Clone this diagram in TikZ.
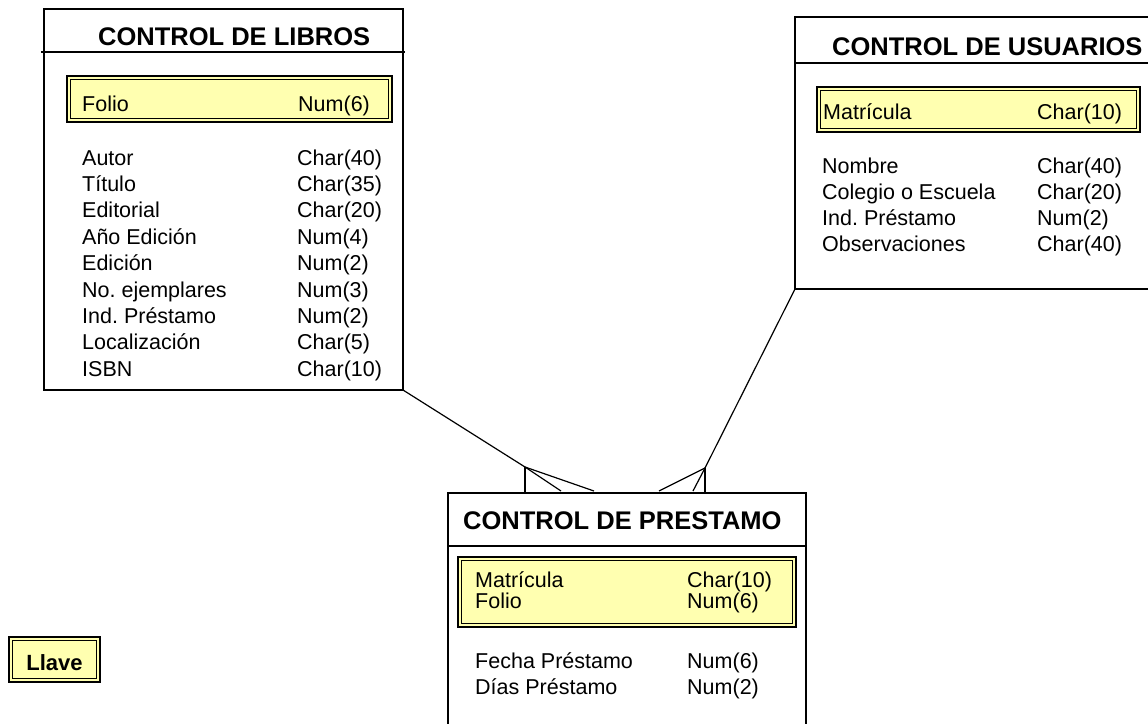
\documentclass[tikz,border=0pt]{standalone}
\usepackage{fontspec}
\setmainfont{Liberation Sans}
\definecolor{keyyellow}{RGB}{255,255,176}
\frenchspacing
\begin{document}
\frenchspacing
\begin{tikzpicture}[x=1pt,y=-1pt,
  entity/.style={draw, line width=1.5pt, inner sep=0pt, outer sep=0pt, anchor=north west},
  keybox/.style={draw=black, line width=2pt, fill=keyyellow, inner sep=0pt, outer sep=0pt, anchor=north west},
  keyinner/.style={draw=black, line width=1pt},
  etitle/.style={font=\fontsize{25.5}{30}\selectfont\bfseries, anchor=base west, inner sep=0pt},
  field/.style={font=\fontsize{21.5}{26}\selectfont, anchor=base west, inner sep=0pt},
  sep/.style={line width=1.5pt},
  conn/.style={line width=1.2pt}]
\useasboundingbox (0,0) rectangle (1148,723);
\clip (0,0) rectangle (1148,723);

% ---------- CONTROL DE LIBROS ----------
\node[entity, minimum width=359pt, minimum height=381pt] (libros) at (44,9) {};
\draw[sep] (libros.north west) ++(-3,43) -- ++(364,0);
\node[etitle] (tlibros) at (98,45) {CONTROL DE LIBROS};
\node[keybox, minimum width=325pt, minimum height=46pt] (klibros) at (67,76) {};
\draw[keyinner] ([shift={(3.5,3.5)}]klibros.north west) rectangle ([shift={(-3.5,-3.5)}]klibros.south east);
\node[field] (l0a) at (82,111) {Folio};
\node[field] (l0b) at (298,111) {Num(6)};
\foreach \n/\a/\b [count=\i from 0] in {l1/Autor/Char(40), l2/Título/Char(35), l3/Editorial/Char(20), l4/Año Edición/Num(4), l5/Edición/Num(2), l6/No. ejemplares/Num(3), l7/Ind. Préstamo/Num(2), l8/Localización/Char(5), l9/ISBN/Char(10)}{
  \node[field] (\n a) at (82,165+26.4*\i) {\a};
  \node[field] (\n b) at (297,165+26.4*\i) {\b};
}

% ---------- CONTROL DE USUARIOS ----------
\node[entity, minimum width=370pt, minimum height=272pt] (usuarios) at (795,17) {};
\draw[sep] (usuarios.north west) ++(0,46) -- ++(370,0);
\node[etitle] (tusuarios) at (832,55) {CONTROL DE USUARIOS};
\node[keybox, minimum width=323pt, minimum height=45pt] (kusuarios) at (817,87) {};
\draw[keyinner] ([shift={(3.5,3.5)}]kusuarios.north west) rectangle ([shift={(-3.5,-3.5)}]kusuarios.south east);
\node[field] (u0a) at (823,119) {Matrícula};
\node[field] (u0b) at (1037,119) {Char(10)};
\foreach \n/\a/\b [count=\i from 0] in {u1/Nombre/Char(40), u2/Colegio o Escuela/Char(20), u3/Ind. Préstamo/Num(2), u4/Observaciones/Char(40)}{
  \node[field] (\n a) at (822,173+26.3*\i) {\a};
  \node[field] (\n b) at (1037,173+26.3*\i) {\b};
}

% ---------- CONTROL DE PRESTAMO ----------
\node[entity, minimum width=358pt, minimum height=260pt] (prestamo) at (448,493) {};
\draw[sep] (prestamo.north west) ++(0,53) -- ++(358,0);
\node[etitle] (tprestamo) at (463,529) {CONTROL DE PRESTAMO};
\node[keybox, minimum width=338pt, minimum height=70pt] (kprestamo) at (458,557) {};
\draw[keyinner] ([shift={(3.5,3.5)}]kprestamo.north west) rectangle ([shift={(-3.5,-3.5)}]kprestamo.south east);
\node[field] (p1a) at (475,587) {Matrícula};
\node[field] (p1b) at (687,587) {Char(10)};
\node[field] (p2a) at (475,608) {Folio};
\node[field] (p2b) at (687,608) {Num(6)};
\node[field] (p3a) at (475,668) {Fecha Préstamo};
\node[field] (p3b) at (687,668) {Num(6)};
\node[field] (p4a) at (475,694) {Días Préstamo};
\node[field] (p4b) at (687,694) {Num(2)};

% ---------- Llave ----------
\node[keybox, minimum width=91pt, minimum height=45pt] (llave) at (9,637) {};
\draw[keyinner] ([shift={(3.5,3.5)}]llave.north west) rectangle ([shift={(-3.5,-3.5)}]llave.south east);
\node[font=\fontsize{22}{26}\selectfont\bfseries, anchor=base, inner sep=0pt] (tllave) at (54.5,670) {Llave};

% ---------- connectors ----------
\coordinate (cl) at (525,467);
\coordinate (cl1) at (561,491);
\coordinate (cl2) at (594,491);
\coordinate (cr) at (705,468);
\coordinate (cr1) at (693,491);
\coordinate (cr2) at (659,491);
\draw[conn] (libros.south east) -- (cl);
\draw[conn] (cl) -- (cl |- prestamo.north);
\draw[conn] (cl) -- (cl1);
\draw[conn] (cl) -- (cl2);
\draw[conn] (usuarios.south west) -- (cr);
\draw[conn] (cr) -- (cr |- prestamo.north);
\draw[conn] (cr) -- (cr1);
\draw[conn] (cr) -- (cr2);
\end{tikzpicture}
\end{document}
